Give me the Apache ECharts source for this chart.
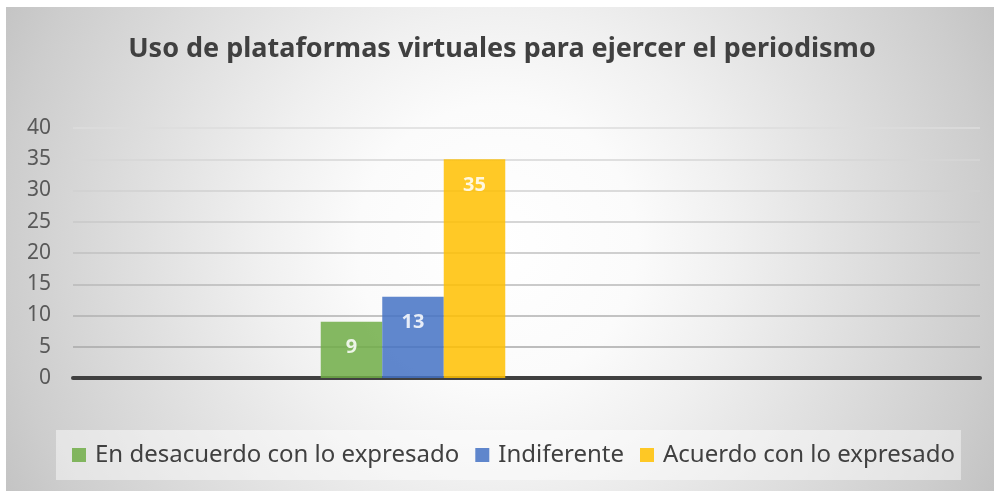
<!DOCTYPE html>
<html>
<head>
<meta charset="utf-8">
<script src="https://cdn.jsdelivr.net/npm/echarts@6/dist/echarts.min.js"></script>
<style>
  html, body { margin: 0; padding: 0; background: #fff; }
  #chart { width: 994px; height: 491px; }
</style>
</head>
<body>
<div id="chart"></div>
<script>
var chart = echarts.init(document.getElementById('chart'));

var titleText = 'Uso de plataformas virtuales para ejercer el periodismo';
var categories = ['Uso de plataformas virtuales'];
var seriesNames = ['En desacuerdo con lo expresado', 'Indiferente', 'Acuerdo con lo expresado'];
var seriesValues = [[9], [13], [35]];
var seriesColors = ['#70AD47', '#4472C4', '#FFC000'];
var yTicks = { min: 0, max: 40, interval: 5 };

// gridlines get lighter towards the top, like the Excel style
var gridColors = ['#b0b0b0', '#a8a8a8', '#b0b0b0', '#b8b8b8', '#c0c0c0', '#c8c8c8', '#d0d0d0', '#d6d6d6', '#dcdcdc'];

var series = seriesNames.map(function (name, i) {
  return {
    name: name,
    type: 'bar',
    data: seriesValues[i],
    barWidth: 61.5,
    barGap: '0%',
    itemStyle: { color: seriesColors[i], opacity: 0.85 },
    label: {
      show: true, position: 'insideTop', distance: 16,
      color: '#ffffff', fontSize: 20, fontWeight: 'bold', fontFamily: 'Noto Sans'
    }
  };
});
// empty slot so the cluster sits left of centre, as in the original
series.push({ name: '_pad', type: 'bar', data: [null], barWidth: 227, barGap: '0%', silent: true });

chart.setOption({
  animation: false,
  backgroundColor: '#ffffff',
  graphic: [{
    type: 'rect', z: -10, silent: true,
    shape: { x: 6, y: 7, width: 988, height: 484 },
    style: {
      fill: new echarts.graphic.RadialGradient(497, 245, 560, [
        { offset: 0, color: '#ffffff' },
        { offset: 0.25, color: '#fbfbfb' },
        { offset: 0.42, color: '#f0f0f0' },
        { offset: 0.88, color: '#cdcdcd' },
        { offset: 1, color: '#c2c2c2' }
      ], true)
    }
  }],
  title: {
    text: titleText, left: 497, top: 31, textAlign: 'center',
    textStyle: { fontFamily: 'Noto Sans', fontSize: 27, fontWeight: 'bold', color: '#404040' }
  },
  legend: {
    data: seriesNames,
    left: 56, top: 430,
    padding: [12, 6, 12, 16],
    backgroundColor: 'rgba(255,255,255,0.45)',
    icon: 'rect', itemWidth: 14, itemHeight: 14, itemGap: 16,
    textStyle: { fontFamily: 'Noto Sans', fontSize: 24, color: '#404040', lineHeight: 26, padding: [0, 0, 0, 4] }
  },
  grid: { left: 73, right: 14, top: 128, bottom: 113, containLabel: false },
  xAxis: {
    type: 'category', data: categories,
    axisLine: { show: true, onZero: true, lineStyle: { color: '#404040', width: 4 } },
    axisTick: { show: false }, axisLabel: { show: false }
  },
  yAxis: {
    type: 'value', min: yTicks.min, max: yTicks.max, interval: yTicks.interval,
    axisLine: { show: false }, axisTick: { show: false },
    axisLabel: { margin: 22, fontFamily: 'Noto Sans', fontSize: 21, color: '#595959' },
    splitLine: { lineStyle: { color: gridColors, width: 1.5 } }
  },
  series: series
});
</script>
</body>
</html>
